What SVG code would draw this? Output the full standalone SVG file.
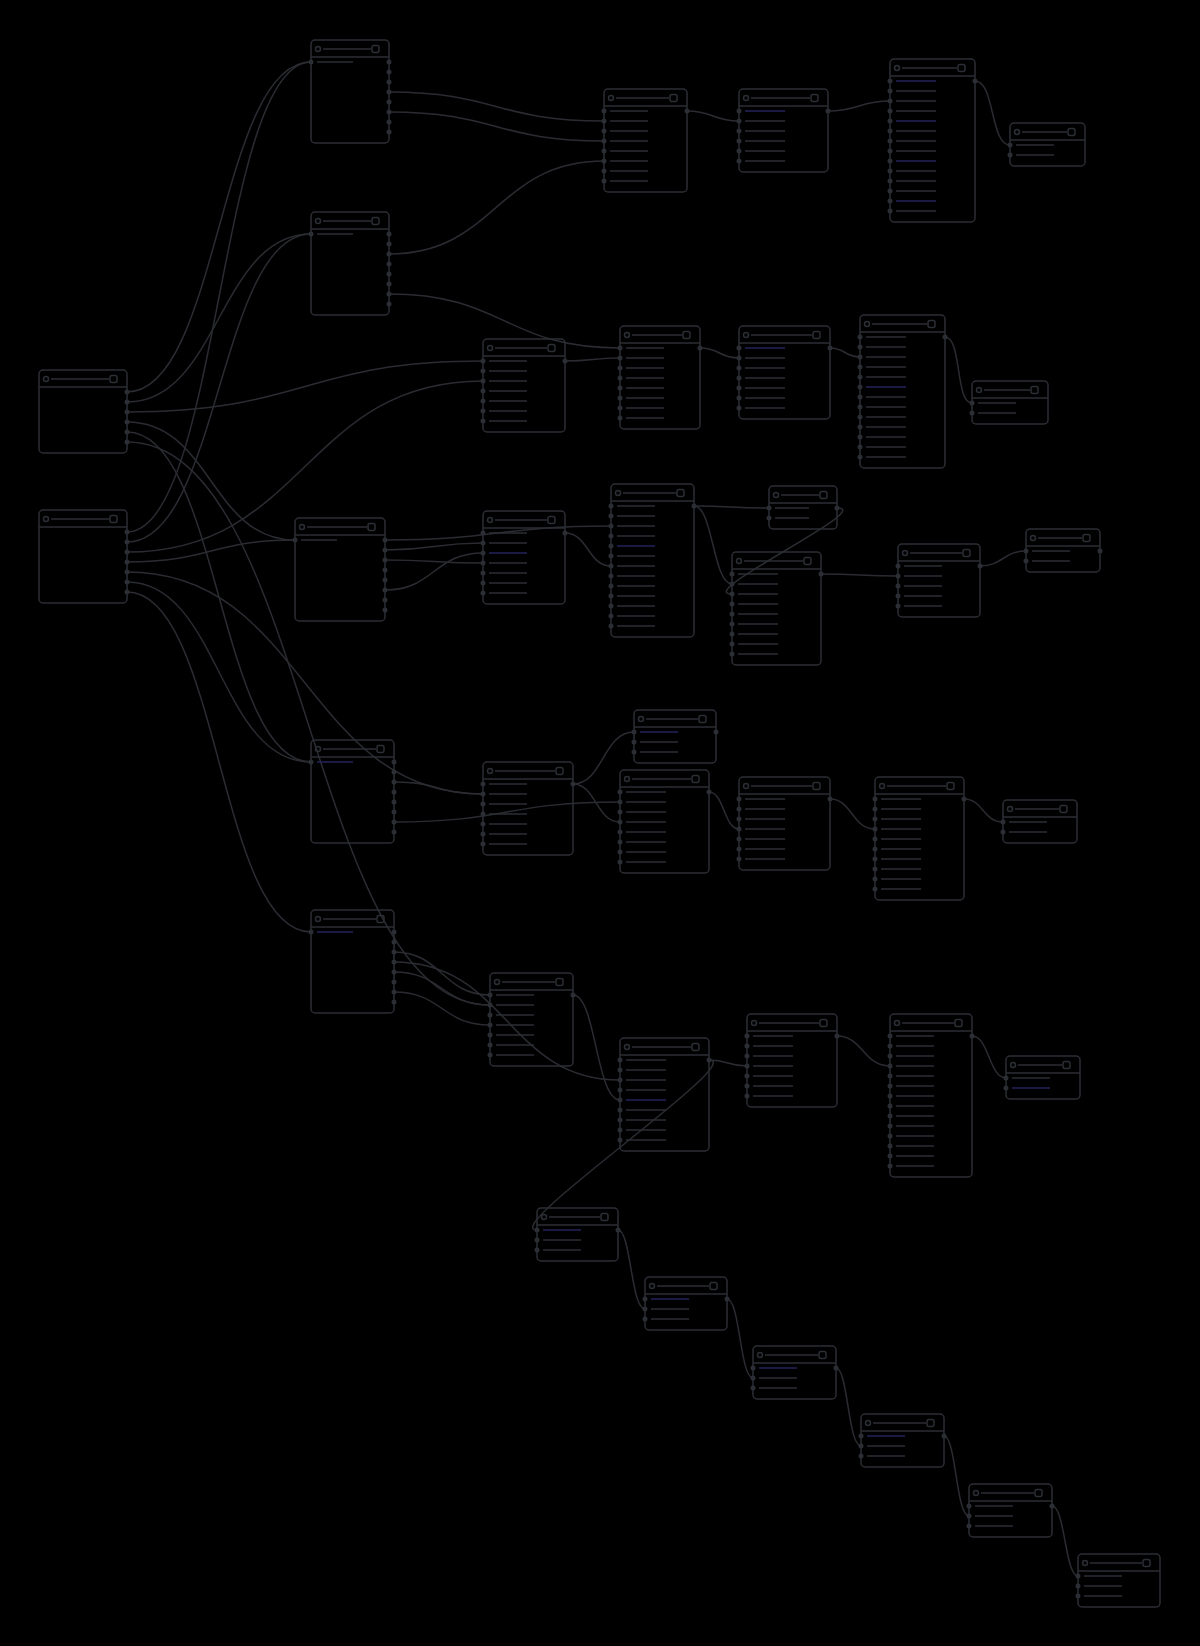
<svg xmlns="http://www.w3.org/2000/svg" width="1200" height="1646" viewBox="0 0 1200 1646">
<style>
.b{fill:none;stroke:#2b2e35;stroke-width:1.5}
.i{fill:none;stroke:#2b2e35;stroke-width:1.5}
.r{fill:none;stroke:#2b2e35;stroke-width:1.5}
.rb{fill:none;stroke:#23235c;stroke-width:1.5}
.pt{fill:none;stroke:#2b2e35;stroke-width:5;stroke-linecap:round}
.e{fill:none;stroke:#2a2c32;stroke-width:1.5}
</style>
<rect width="1200" height="1646" fill="#000"/>
<g id="connectors">
<path class="e" d="M127,392 C219,392 219,62 311,62"/>
<path class="e" d="M127,532 C219,532 219,62 311,62"/>
<path class="e" d="M127,402 C219,402 219,234 311,234"/>
<path class="e" d="M127,542 C219,542 219,234 311,234"/>
<path class="e" d="M127,412 C305,412 305,361 483,361"/>
<path class="e" d="M127,552 C305,552 305,381 483,381"/>
<path class="e" d="M127,422 C211,422 211,540 295,540"/>
<path class="e" d="M127,562 C211,562 211,540 295,540"/>
<path class="e" d="M127,432 C219,432 219,762 311,762"/>
<path class="e" d="M127,582 C219,582 219,762 311,762"/>
<path class="e" d="M127,442 C308,442 308,1005 490,1005"/>
<path class="e" d="M127,592 C219,592 219,932 311,932"/>
<path class="e" d="M127,572 C305,572 305,794 483,794"/>
<path class="e" d="M389,92 C496,92 496,121 604,121"/>
<path class="e" d="M389,112 C496,112 496,141 604,141"/>
<path class="e" d="M389,254 C496,254 496,161 604,161"/>
<path class="e" d="M389,294 C505,294 505,348 620,348"/>
<path class="e" d="M565,361 C593,361 592,358 620,358"/>
<path class="e" d="M687,111 C713,111 713,121 739,121"/>
<path class="e" d="M828,111 C859,111 859,101 890,101"/>
<path class="e" d="M975,81 C995,81 990,145 1010,145"/>
<path class="e" d="M700,348 C720,348 719,358 739,358"/>
<path class="e" d="M830,348 C845,348 845,357 860,357"/>
<path class="e" d="M945,337 C962,337 955,403 972,403"/>
<path class="e" d="M385,550 C434,550 434,543 483,543"/>
<path class="e" d="M385,560 C434,560 434,563 483,563"/>
<path class="e" d="M385,590 C434,590 434,553 483,553"/>
<path class="e" d="M385,540 C498,540 498,526 611,526"/>
<path class="e" d="M565,533 C588,533 588,566 611,566"/>
<path class="e" d="M694,506 C731,506 731,508 769,508"/>
<path class="e" d="M694,506 C713,506 713,584 732,584"/>
<path class="e" d="M837,508 C877,508 692,594 732,594"/>
<path class="e" d="M821,574 C860,574 860,576 898,576"/>
<path class="e" d="M980,566 C1003,566 1003,551 1026,551"/>
<path class="e" d="M394,782 C438,782 438,794 483,794"/>
<path class="e" d="M394,822 C507,822 507,802 620,802"/>
<path class="e" d="M573,784 C603,784 603,732 634,732"/>
<path class="e" d="M573,784 C596,784 596,822 620,822"/>
<path class="e" d="M709,792 C724,792 724,829 739,829"/>
<path class="e" d="M830,799 C852,799 852,829 875,829"/>
<path class="e" d="M964,799 C983,799 983,822 1003,822"/>
<path class="e" d="M394,952 C442,952 442,995 490,995"/>
<path class="e" d="M394,972 C442,972 442,1005 490,1005"/>
<path class="e" d="M394,992 C442,992 442,1025 490,1025"/>
<path class="e" d="M394,962 C507,962 507,1080 620,1080"/>
<path class="e" d="M573,995 C596,995 596,1100 620,1100"/>
<path class="e" d="M709,1060 C728,1060 728,1066 747,1066"/>
<path class="e" d="M709,1060 C749,1060 497,1230 537,1230"/>
<path class="e" d="M837,1036 C863,1036 863,1066 890,1066"/>
<path class="e" d="M972,1036 C989,1036 989,1078 1006,1078"/>
<path class="e" d="M618,1230 C631,1230 631,1309 645,1309"/>
<path class="e" d="M727,1299 C740,1299 740,1378 753,1378"/>
<path class="e" d="M836,1368 C848,1368 848,1446 861,1446"/>
<path class="e" d="M944,1436 C956,1436 956,1516 969,1516"/>
<path class="e" d="M1052,1506 C1065,1506 1065,1576 1078,1576"/>
</g>
<g id="A1" transform="translate(39,370)"><rect class="b" width="88" height="83" rx="4"/><circle class="i" cx="7" cy="9" r="2.5"/><line class="b" x1="12" y1="9" x2="70" y2="9"/><rect class="i" x="71" y="5.5" width="7" height="7" rx="2"/><line class="b" x1="0" y1="17" x2="88" y2="17"/><path class="pt" d="M88 22h0M88 32h0M88 42h0M88 52h0M88 62h0M88 72h0"/></g>
<g id="A2" transform="translate(39,510)"><rect class="b" width="88" height="93" rx="4"/><circle class="i" cx="7" cy="9" r="2.5"/><line class="b" x1="12" y1="9" x2="70" y2="9"/><rect class="i" x="71" y="5.5" width="7" height="7" rx="2"/><line class="b" x1="0" y1="17" x2="88" y2="17"/><path class="pt" d="M88 22h0M88 32h0M88 42h0M88 52h0M88 62h0M88 72h0M88 82h0"/></g>
<g id="B1" transform="translate(311,40)"><rect class="b" width="78" height="103" rx="4"/><circle class="i" cx="7" cy="9" r="2.5"/><line class="b" x1="12" y1="9" x2="60" y2="9"/><rect class="i" x="61" y="5.5" width="7" height="7" rx="2"/><line class="b" x1="0" y1="17" x2="78" y2="17"/><path class="r" d="M6 22h36"/><path class="pt" d="M0 22h0M78 22h0M78 32h0M78 42h0M78 52h0M78 62h0M78 72h0M78 82h0M78 92h0"/></g>
<g id="B2" transform="translate(311,212)"><rect class="b" width="78" height="103" rx="4"/><circle class="i" cx="7" cy="9" r="2.5"/><line class="b" x1="12" y1="9" x2="60" y2="9"/><rect class="i" x="61" y="5.5" width="7" height="7" rx="2"/><line class="b" x1="0" y1="17" x2="78" y2="17"/><path class="r" d="M6 22h36"/><path class="pt" d="M0 22h0M78 22h0M78 32h0M78 42h0M78 52h0M78 62h0M78 72h0M78 82h0M78 92h0"/></g>
<g id="B3" transform="translate(295,518)"><rect class="b" width="90" height="103" rx="4"/><circle class="i" cx="7" cy="9" r="2.5"/><line class="b" x1="12" y1="9" x2="72" y2="9"/><rect class="i" x="73" y="5.5" width="7" height="7" rx="2"/><line class="b" x1="0" y1="17" x2="90" y2="17"/><path class="r" d="M6 22h36"/><path class="pt" d="M0 22h0M90 22h0M90 32h0M90 42h0M90 52h0M90 62h0M90 72h0M90 82h0M90 92h0"/></g>
<g id="B4" transform="translate(311,740)"><rect class="b" width="83" height="103" rx="4"/><circle class="i" cx="7" cy="9" r="2.5"/><line class="b" x1="12" y1="9" x2="65" y2="9"/><rect class="i" x="66" y="5.5" width="7" height="7" rx="2"/><line class="b" x1="0" y1="17" x2="83" y2="17"/><path class="rb" d="M6 22h36"/><path class="pt" d="M0 22h0M83 22h0M83 32h0M83 42h0M83 52h0M83 62h0M83 72h0M83 82h0M83 92h0"/></g>
<g id="B5" transform="translate(311,910)"><rect class="b" width="83" height="103" rx="4"/><circle class="i" cx="7" cy="9" r="2.5"/><line class="b" x1="12" y1="9" x2="65" y2="9"/><rect class="i" x="66" y="5.5" width="7" height="7" rx="2"/><line class="b" x1="0" y1="17" x2="83" y2="17"/><path class="rb" d="M6 22h36"/><path class="pt" d="M0 22h0M83 22h0M83 32h0M83 42h0M83 52h0M83 62h0M83 72h0M83 82h0M83 92h0"/></g>
<g id="C1" transform="translate(604,89)"><rect class="b" width="83" height="103" rx="4"/><circle class="i" cx="7" cy="9" r="2.5"/><line class="b" x1="12" y1="9" x2="65" y2="9"/><rect class="i" x="66" y="5.5" width="7" height="7" rx="2"/><line class="b" x1="0" y1="17" x2="83" y2="17"/><path class="r" d="M6 22h38M6 32h38M6 42h38M6 52h38M6 62h38M6 72h38M6 82h38M6 92h38"/><path class="pt" d="M0 22h0M0 32h0M0 42h0M0 52h0M0 62h0M0 72h0M0 82h0M0 92h0M83 22h0"/></g>
<g id="C2" transform="translate(483,339)"><rect class="b" width="82" height="93" rx="4"/><circle class="i" cx="7" cy="9" r="2.5"/><line class="b" x1="12" y1="9" x2="64" y2="9"/><rect class="i" x="65" y="5.5" width="7" height="7" rx="2"/><line class="b" x1="0" y1="17" x2="82" y2="17"/><path class="r" d="M6 22h38M6 32h38M6 42h38M6 52h38M6 62h38M6 72h38M6 82h38"/><path class="pt" d="M0 22h0M0 32h0M0 42h0M0 52h0M0 62h0M0 72h0M0 82h0M82 22h0"/></g>
<g id="C3" transform="translate(483,511)"><rect class="b" width="82" height="93" rx="4"/><circle class="i" cx="7" cy="9" r="2.5"/><line class="b" x1="12" y1="9" x2="64" y2="9"/><rect class="i" x="65" y="5.5" width="7" height="7" rx="2"/><line class="b" x1="0" y1="17" x2="82" y2="17"/><path class="r" d="M6 22h38M6 32h38M6 52h38M6 62h38M6 72h38M6 82h38"/><path class="rb" d="M6 42h38"/><path class="pt" d="M0 22h0M0 32h0M0 42h0M0 52h0M0 62h0M0 72h0M0 82h0M82 22h0"/></g>
<g id="C4" transform="translate(483,762)"><rect class="b" width="90" height="93" rx="4"/><circle class="i" cx="7" cy="9" r="2.5"/><line class="b" x1="12" y1="9" x2="72" y2="9"/><rect class="i" x="73" y="5.5" width="7" height="7" rx="2"/><line class="b" x1="0" y1="17" x2="90" y2="17"/><path class="r" d="M6 22h38M6 32h38M6 42h38M6 52h38M6 62h38M6 72h38M6 82h38"/><path class="pt" d="M0 22h0M0 32h0M0 42h0M0 52h0M0 62h0M0 72h0M0 82h0M90 22h0"/></g>
<g id="C5" transform="translate(490,973)"><rect class="b" width="83" height="93" rx="4"/><circle class="i" cx="7" cy="9" r="2.5"/><line class="b" x1="12" y1="9" x2="65" y2="9"/><rect class="i" x="66" y="5.5" width="7" height="7" rx="2"/><line class="b" x1="0" y1="17" x2="83" y2="17"/><path class="r" d="M6 22h38M6 32h38M6 42h38M6 52h38M6 62h38M6 72h38M6 82h38"/><path class="pt" d="M0 22h0M0 32h0M0 42h0M0 52h0M0 62h0M0 72h0M0 82h0M83 22h0"/></g>
<g id="C6" transform="translate(537,1208)"><rect class="b" width="81" height="53" rx="4"/><circle class="i" cx="7" cy="9" r="2.5"/><line class="b" x1="12" y1="9" x2="63" y2="9"/><rect class="i" x="64" y="5.5" width="7" height="7" rx="2"/><line class="b" x1="0" y1="17" x2="81" y2="17"/><path class="rb" d="M6 22h38"/><path class="r" d="M6 32h38M6 42h38"/><path class="pt" d="M0 22h0M0 32h0M0 42h0M81 22h0"/></g>
<g id="D1" transform="translate(739,89)"><rect class="b" width="89" height="83" rx="4"/><circle class="i" cx="7" cy="9" r="2.5"/><line class="b" x1="12" y1="9" x2="71" y2="9"/><rect class="i" x="72" y="5.5" width="7" height="7" rx="2"/><line class="b" x1="0" y1="17" x2="89" y2="17"/><path class="rb" d="M6 22h40"/><path class="r" d="M6 32h40M6 42h40M6 52h40M6 62h40M6 72h40"/><path class="pt" d="M0 22h0M0 32h0M0 42h0M0 52h0M0 62h0M0 72h0M89 22h0"/></g>
<g id="D2" transform="translate(620,326)"><rect class="b" width="80" height="103" rx="4"/><circle class="i" cx="7" cy="9" r="2.5"/><line class="b" x1="12" y1="9" x2="62" y2="9"/><rect class="i" x="63" y="5.5" width="7" height="7" rx="2"/><line class="b" x1="0" y1="17" x2="80" y2="17"/><path class="r" d="M6 22h38M6 32h38M6 42h38M6 52h38M6 62h38M6 72h38M6 82h38M6 92h38"/><path class="pt" d="M0 22h0M0 32h0M0 42h0M0 52h0M0 62h0M0 72h0M0 82h0M0 92h0M80 22h0"/></g>
<g id="D3" transform="translate(611,484)"><rect class="b" width="83" height="153" rx="4"/><circle class="i" cx="7" cy="9" r="2.5"/><line class="b" x1="12" y1="9" x2="65" y2="9"/><rect class="i" x="66" y="5.5" width="7" height="7" rx="2"/><line class="b" x1="0" y1="17" x2="83" y2="17"/><path class="r" d="M6 22h38M6 32h38M6 42h38M6 52h38M6 72h38M6 82h38M6 92h38M6 102h38M6 112h38M6 122h38M6 132h38M6 142h38"/><path class="rb" d="M6 62h38"/><path class="pt" d="M0 22h0M0 32h0M0 42h0M0 52h0M0 62h0M0 72h0M0 82h0M0 92h0M0 102h0M0 112h0M0 122h0M0 132h0M0 142h0M83 22h0"/></g>
<g id="D4" transform="translate(634,710)"><rect class="b" width="82" height="53" rx="4"/><circle class="i" cx="7" cy="9" r="2.5"/><line class="b" x1="12" y1="9" x2="64" y2="9"/><rect class="i" x="65" y="5.5" width="7" height="7" rx="2"/><line class="b" x1="0" y1="17" x2="82" y2="17"/><path class="rb" d="M6 22h38"/><path class="r" d="M6 32h38M6 42h38"/><path class="pt" d="M0 22h0M0 32h0M0 42h0M82 22h0"/></g>
<g id="D5" transform="translate(620,770)"><rect class="b" width="89" height="103" rx="4"/><circle class="i" cx="7" cy="9" r="2.5"/><line class="b" x1="12" y1="9" x2="71" y2="9"/><rect class="i" x="72" y="5.5" width="7" height="7" rx="2"/><line class="b" x1="0" y1="17" x2="89" y2="17"/><path class="r" d="M6 22h40M6 32h40M6 42h40M6 52h40M6 62h40M6 72h40M6 82h40M6 92h40"/><path class="pt" d="M0 22h0M0 32h0M0 42h0M0 52h0M0 62h0M0 72h0M0 82h0M0 92h0M89 22h0"/></g>
<g id="D6" transform="translate(620,1038)"><rect class="b" width="89" height="113" rx="4"/><circle class="i" cx="7" cy="9" r="2.5"/><line class="b" x1="12" y1="9" x2="71" y2="9"/><rect class="i" x="72" y="5.5" width="7" height="7" rx="2"/><line class="b" x1="0" y1="17" x2="89" y2="17"/><path class="r" d="M6 22h40M6 32h40M6 42h40M6 52h40M6 72h40M6 82h40M6 92h40M6 102h40"/><path class="rb" d="M6 62h40"/><path class="pt" d="M0 22h0M0 32h0M0 42h0M0 52h0M0 62h0M0 72h0M0 82h0M0 92h0M0 102h0M89 22h0"/></g>
<g id="D7" transform="translate(645,1277)"><rect class="b" width="82" height="53" rx="4"/><circle class="i" cx="7" cy="9" r="2.5"/><line class="b" x1="12" y1="9" x2="64" y2="9"/><rect class="i" x="65" y="5.5" width="7" height="7" rx="2"/><line class="b" x1="0" y1="17" x2="82" y2="17"/><path class="rb" d="M6 22h38"/><path class="r" d="M6 32h38M6 42h38"/><path class="pt" d="M0 22h0M0 32h0M0 42h0M82 22h0"/></g>
<g id="E1" transform="translate(890,59)"><rect class="b" width="85" height="163" rx="4"/><circle class="i" cx="7" cy="9" r="2.5"/><line class="b" x1="12" y1="9" x2="67" y2="9"/><rect class="i" x="68" y="5.5" width="7" height="7" rx="2"/><line class="b" x1="0" y1="17" x2="85" y2="17"/><path class="r" d="M6 32h40M6 42h40M6 52h40M6 72h40M6 82h40M6 92h40M6 112h40M6 122h40M6 132h40M6 152h40"/><path class="rb" d="M6 22h40M6 62h40M6 102h40M6 142h40"/><path class="pt" d="M0 22h0M0 32h0M0 42h0M0 52h0M0 62h0M0 72h0M0 82h0M0 92h0M0 102h0M0 112h0M0 122h0M0 132h0M0 142h0M0 152h0M85 22h0"/></g>
<g id="E2" transform="translate(739,326)"><rect class="b" width="91" height="93" rx="4"/><circle class="i" cx="7" cy="9" r="2.5"/><line class="b" x1="12" y1="9" x2="73" y2="9"/><rect class="i" x="74" y="5.5" width="7" height="7" rx="2"/><line class="b" x1="0" y1="17" x2="91" y2="17"/><path class="rb" d="M6 22h40"/><path class="r" d="M6 32h40M6 42h40M6 52h40M6 62h40M6 72h40M6 82h40"/><path class="pt" d="M0 22h0M0 32h0M0 42h0M0 52h0M0 62h0M0 72h0M0 82h0M91 22h0"/></g>
<g id="E3" transform="translate(769,486)"><rect class="b" width="68" height="43" rx="4"/><circle class="i" cx="7" cy="9" r="2.5"/><line class="b" x1="12" y1="9" x2="50" y2="9"/><rect class="i" x="51" y="5.5" width="7" height="7" rx="2"/><line class="b" x1="0" y1="17" x2="68" y2="17"/><path class="r" d="M6 22h34M6 32h34"/><path class="pt" d="M0 22h0M0 32h0M68 22h0"/></g>
<g id="E4" transform="translate(732,552)"><rect class="b" width="89" height="113" rx="4"/><circle class="i" cx="7" cy="9" r="2.5"/><line class="b" x1="12" y1="9" x2="71" y2="9"/><rect class="i" x="72" y="5.5" width="7" height="7" rx="2"/><line class="b" x1="0" y1="17" x2="89" y2="17"/><path class="r" d="M6 22h40M6 32h40M6 42h40M6 52h40M6 62h40M6 72h40M6 82h40M6 92h40M6 102h40"/><path class="pt" d="M0 22h0M0 32h0M0 42h0M0 52h0M0 62h0M0 72h0M0 82h0M0 92h0M0 102h0M89 22h0"/></g>
<g id="E5" transform="translate(739,777)"><rect class="b" width="91" height="93" rx="4"/><circle class="i" cx="7" cy="9" r="2.5"/><line class="b" x1="12" y1="9" x2="73" y2="9"/><rect class="i" x="74" y="5.5" width="7" height="7" rx="2"/><line class="b" x1="0" y1="17" x2="91" y2="17"/><path class="r" d="M6 22h40M6 32h40M6 42h40M6 52h40M6 62h40M6 72h40M6 82h40"/><path class="pt" d="M0 22h0M0 32h0M0 42h0M0 52h0M0 62h0M0 72h0M0 82h0M91 22h0"/></g>
<g id="E6" transform="translate(747,1014)"><rect class="b" width="90" height="93" rx="4"/><circle class="i" cx="7" cy="9" r="2.5"/><line class="b" x1="12" y1="9" x2="72" y2="9"/><rect class="i" x="73" y="5.5" width="7" height="7" rx="2"/><line class="b" x1="0" y1="17" x2="90" y2="17"/><path class="r" d="M6 22h40M6 32h40M6 42h40M6 52h40M6 62h40M6 72h40M6 82h40"/><path class="pt" d="M0 22h0M0 32h0M0 42h0M0 52h0M0 62h0M0 72h0M0 82h0M90 22h0"/></g>
<g id="E7" transform="translate(753,1346)"><rect class="b" width="83" height="53" rx="4"/><circle class="i" cx="7" cy="9" r="2.5"/><line class="b" x1="12" y1="9" x2="65" y2="9"/><rect class="i" x="66" y="5.5" width="7" height="7" rx="2"/><line class="b" x1="0" y1="17" x2="83" y2="17"/><path class="rb" d="M6 22h38"/><path class="r" d="M6 32h38M6 42h38"/><path class="pt" d="M0 22h0M0 32h0M0 42h0M83 22h0"/></g>
<g id="F1" transform="translate(1010,123)"><rect class="b" width="75" height="43" rx="4"/><circle class="i" cx="7" cy="9" r="2.5"/><line class="b" x1="12" y1="9" x2="57" y2="9"/><rect class="i" x="58" y="5.5" width="7" height="7" rx="2"/><line class="b" x1="0" y1="17" x2="75" y2="17"/><path class="r" d="M6 22h38M6 32h38"/><path class="pt" d="M0 22h0M0 32h0"/></g>
<g id="F2" transform="translate(860,315)"><rect class="b" width="85" height="153" rx="4"/><circle class="i" cx="7" cy="9" r="2.5"/><line class="b" x1="12" y1="9" x2="67" y2="9"/><rect class="i" x="68" y="5.5" width="7" height="7" rx="2"/><line class="b" x1="0" y1="17" x2="85" y2="17"/><path class="r" d="M6 22h40M6 32h40M6 42h40M6 52h40M6 62h40M6 82h40M6 92h40M6 102h40M6 112h40M6 122h40M6 132h40M6 142h40"/><path class="rb" d="M6 72h40"/><path class="pt" d="M0 22h0M0 32h0M0 42h0M0 52h0M0 62h0M0 72h0M0 82h0M0 92h0M0 102h0M0 112h0M0 122h0M0 132h0M0 142h0M85 22h0"/></g>
<g id="F3" transform="translate(898,544)"><rect class="b" width="82" height="73" rx="4"/><circle class="i" cx="7" cy="9" r="2.5"/><line class="b" x1="12" y1="9" x2="64" y2="9"/><rect class="i" x="65" y="5.5" width="7" height="7" rx="2"/><line class="b" x1="0" y1="17" x2="82" y2="17"/><path class="r" d="M6 22h38M6 32h38M6 42h38M6 52h38M6 62h38"/><path class="pt" d="M0 22h0M0 32h0M0 42h0M0 52h0M0 62h0M82 22h0"/></g>
<g id="F4" transform="translate(875,777)"><rect class="b" width="89" height="123" rx="4"/><circle class="i" cx="7" cy="9" r="2.5"/><line class="b" x1="12" y1="9" x2="71" y2="9"/><rect class="i" x="72" y="5.5" width="7" height="7" rx="2"/><line class="b" x1="0" y1="17" x2="89" y2="17"/><path class="r" d="M6 22h40M6 32h40M6 42h40M6 52h40M6 62h40M6 72h40M6 82h40M6 92h40M6 102h40M6 112h40"/><path class="pt" d="M0 22h0M0 32h0M0 42h0M0 52h0M0 62h0M0 72h0M0 82h0M0 92h0M0 102h0M0 112h0M89 22h0"/></g>
<g id="F5" transform="translate(890,1014)"><rect class="b" width="82" height="163" rx="4"/><circle class="i" cx="7" cy="9" r="2.5"/><line class="b" x1="12" y1="9" x2="64" y2="9"/><rect class="i" x="65" y="5.5" width="7" height="7" rx="2"/><line class="b" x1="0" y1="17" x2="82" y2="17"/><path class="r" d="M6 22h38M6 32h38M6 42h38M6 52h38M6 62h38M6 72h38M6 82h38M6 92h38M6 102h38M6 112h38M6 122h38M6 132h38M6 142h38M6 152h38"/><path class="pt" d="M0 22h0M0 32h0M0 42h0M0 52h0M0 62h0M0 72h0M0 82h0M0 92h0M0 102h0M0 112h0M0 122h0M0 132h0M0 142h0M0 152h0M82 22h0"/></g>
<g id="F6" transform="translate(861,1414)"><rect class="b" width="83" height="53" rx="4"/><circle class="i" cx="7" cy="9" r="2.5"/><line class="b" x1="12" y1="9" x2="65" y2="9"/><rect class="i" x="66" y="5.5" width="7" height="7" rx="2"/><line class="b" x1="0" y1="17" x2="83" y2="17"/><path class="rb" d="M6 22h38"/><path class="r" d="M6 32h38M6 42h38"/><path class="pt" d="M0 22h0M0 32h0M0 42h0M83 22h0"/></g>
<g id="G1" transform="translate(972,381)"><rect class="b" width="76" height="43" rx="4"/><circle class="i" cx="7" cy="9" r="2.5"/><line class="b" x1="12" y1="9" x2="58" y2="9"/><rect class="i" x="59" y="5.5" width="7" height="7" rx="2"/><line class="b" x1="0" y1="17" x2="76" y2="17"/><path class="r" d="M6 22h38M6 32h38"/><path class="pt" d="M0 22h0M0 32h0"/></g>
<g id="G2" transform="translate(1026,529)"><rect class="b" width="74" height="43" rx="4"/><circle class="i" cx="7" cy="9" r="2.5"/><line class="b" x1="12" y1="9" x2="56" y2="9"/><rect class="i" x="57" y="5.5" width="7" height="7" rx="2"/><line class="b" x1="0" y1="17" x2="74" y2="17"/><path class="r" d="M6 22h38M6 32h38"/><path class="pt" d="M0 22h0M0 32h0M74 22h0"/></g>
<g id="G3" transform="translate(1003,800)"><rect class="b" width="74" height="43" rx="4"/><circle class="i" cx="7" cy="9" r="2.5"/><line class="b" x1="12" y1="9" x2="56" y2="9"/><rect class="i" x="57" y="5.5" width="7" height="7" rx="2"/><line class="b" x1="0" y1="17" x2="74" y2="17"/><path class="r" d="M6 22h38M6 32h38"/><path class="pt" d="M0 22h0M0 32h0"/></g>
<g id="G4" transform="translate(1006,1056)"><rect class="b" width="74" height="43" rx="4"/><circle class="i" cx="7" cy="9" r="2.5"/><line class="b" x1="12" y1="9" x2="56" y2="9"/><rect class="i" x="57" y="5.5" width="7" height="7" rx="2"/><line class="b" x1="0" y1="17" x2="74" y2="17"/><path class="r" d="M6 22h38"/><path class="rb" d="M6 32h38"/><path class="pt" d="M0 22h0M0 32h0"/></g>
<g id="G5" transform="translate(969,1484)"><rect class="b" width="83" height="53" rx="4"/><circle class="i" cx="7" cy="9" r="2.5"/><line class="b" x1="12" y1="9" x2="65" y2="9"/><rect class="i" x="66" y="5.5" width="7" height="7" rx="2"/><line class="b" x1="0" y1="17" x2="83" y2="17"/><path class="r" d="M6 22h38M6 32h38M6 42h38"/><path class="pt" d="M0 22h0M0 32h0M0 42h0M83 22h0"/></g>
<g id="G6" transform="translate(1078,1554)"><rect class="b" width="82" height="53" rx="4"/><circle class="i" cx="7" cy="9" r="2.5"/><line class="b" x1="12" y1="9" x2="64" y2="9"/><rect class="i" x="65" y="5.5" width="7" height="7" rx="2"/><line class="b" x1="0" y1="17" x2="82" y2="17"/><path class="r" d="M6 22h38M6 32h38M6 42h38"/><path class="pt" d="M0 22h0M0 32h0M0 42h0"/></g>
</svg>
